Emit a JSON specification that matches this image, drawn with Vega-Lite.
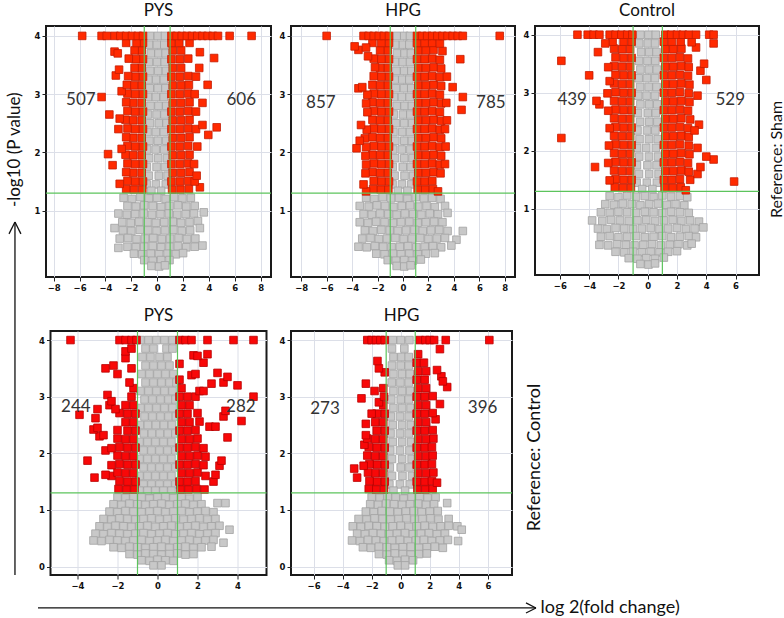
{
"$schema": "https://vega.github.io/schema/vega-lite/v6.json",
"background": "white",
"padding": {"left": 4, "top": 1, "right": 2, "bottom": 0},
"datasets": {
"p1": [
{"x":-0.55,"y":4.0},{"x":0.05,"y":4.0},{"x":0.6,"y":4.0},{"x":-0.62,"y":3.85},{"x":-0.02,"y":3.85},{"x":0.55,"y":3.85},{"x":-0.5,"y":3.7},{"x":0.1,"y":3.7},{"x":0.65,"y":3.7},{"x":-0.65,"y":3.55},{"x":0,"y":3.55},{"x":0.58,"y":3.55},{"x":-0.55,"y":3.4},{"x":0.08,"y":3.4},{"x":0.68,"y":3.4},{"x":-0.68,"y":3.25},{"x":-0.08,"y":3.25},{"x":0.52,"y":3.25},{"x":-0.58,"y":3.1},{"x":0.05,"y":3.1},{"x":0.64,"y":3.1},{"x":-0.7,"y":2.95},{"x":-0.1,"y":2.95},{"x":0.5,"y":2.95},{"x":-0.52,"y":2.8},{"x":0.1,"y":2.8},{"x":0.7,"y":2.8},{"x":-0.72,"y":2.65},{"x":-0.05,"y":2.65},{"x":0.56,"y":2.65},{"x":-0.56,"y":2.5},{"x":0.12,"y":2.5},{"x":0.72,"y":2.5},{"x":-0.75,"y":2.35},{"x":-0.1,"y":2.35},{"x":0.52,"y":2.35},{"x":-0.6,"y":2.2},{"x":0.05,"y":2.2},{"x":0.7,"y":2.2},{"x":-0.78,"y":2.05},{"x":-0.12,"y":2.05},{"x":0.55,"y":2.05},{"x":-0.62,"y":1.9},{"x":0.08,"y":1.9},{"x":0.76,"y":1.9},{"x":-0.8,"y":1.75},{"x":-0.05,"y":1.75},{"x":0.6,"y":1.75},{"x":-0.65,"y":1.6},{"x":0.12,"y":1.6},{"x":0.8,"y":1.6},{"x":-0.82,"y":1.45},{"x":-0.1,"y":1.45},{"x":0.66,"y":1.45},{"x":-0.45,"y":1.34},{"x":0.3,"y":1.34},
{"x":-2.6,"y":1.22},{"x":-1.95,"y":1.2},{"x":-1.3,"y":1.23},{"x":-0.65,"y":1.21},{"x":0,"y":1.22},{"x":0.65,"y":1.2},{"x":1.3,"y":1.23},{"x":1.95,"y":1.21},{"x":2.6,"y":1.22},
{"x":-2.3,"y":1.08},{"x":-1.65,"y":1.07},{"x":-1,"y":1.09},{"x":-0.35,"y":1.08},{"x":0.3,"y":1.06},{"x":0.95,"y":1.08},{"x":1.6,"y":1.09},{"x":2.25,"y":1.07},{"x":2.9,"y":1.08},
{"x":-3,"y":0.95},{"x":-2.35,"y":0.93},{"x":-1.7,"y":0.94},{"x":-1.05,"y":0.95},{"x":-0.4,"y":0.93},{"x":0.25,"y":0.94},{"x":0.9,"y":0.95},{"x":1.55,"y":0.93},{"x":2.2,"y":0.94},{"x":2.85,"y":0.95},{"x":3.6,"y":0.97},
{"x":-2.7,"y":0.8},{"x":-2.05,"y":0.79},{"x":-1.4,"y":0.81},{"x":-0.75,"y":0.8},{"x":-0.1,"y":0.79},{"x":0.55,"y":0.8},{"x":1.2,"y":0.81},{"x":1.85,"y":0.79},{"x":2.5,"y":0.8},{"x":3.15,"y":0.82},
{"x":-3.3,"y":0.7},{"x":-2.65,"y":0.66},{"x":-2,"y":0.65},{"x":-1.35,"y":0.67},{"x":-0.7,"y":0.66},{"x":-0.05,"y":0.65},{"x":0.6,"y":0.66},{"x":1.25,"y":0.67},{"x":1.9,"y":0.65},{"x":2.55,"y":0.66},{"x":3.3,"y":0.7},
{"x":-2.9,"y":0.52},{"x":-2.25,"y":0.53},{"x":-1.6,"y":0.51},{"x":-0.95,"y":0.52},{"x":-0.3,"y":0.53},{"x":0.35,"y":0.51},{"x":1,"y":0.52},{"x":1.65,"y":0.53},{"x":2.3,"y":0.51},{"x":2.95,"y":0.52},
{"x":-3,"y":0.36},{"x":-2.3,"y":0.38},{"x":-1.65,"y":0.37},{"x":-1,"y":0.38},{"x":-0.35,"y":0.39},{"x":0.3,"y":0.37},{"x":0.95,"y":0.38},{"x":1.6,"y":0.39},{"x":2.25,"y":0.37},{"x":2.9,"y":0.38},{"x":3.5,"y":0.4},
{"x":-1.8,"y":0.26},{"x":-1.15,"y":0.25},{"x":-0.5,"y":0.26},{"x":0.15,"y":0.25},{"x":0.8,"y":0.26},{"x":1.45,"y":0.25},{"x":2,"y":0.27},
{"x":-1,"y":0.15},{"x":-0.35,"y":0.14},{"x":0.3,"y":0.15},{"x":0.95,"y":0.15},{"x":-0.45,"y":0.05},{"x":0.15,"y":0.04},{"x":0.6,"y":0.06},
{"x":-1.15,"y":1.36},{"x":-1.8,"y":1.36},{"x":-2.4,"y":1.37},{"x":-1.1,"y":1.5},{"x":-1.7,"y":1.5},{"x":-2.3,"y":1.51},{"x":-2.9,"y":1.46},{"x":-1.2,"y":1.65},{"x":-1.85,"y":1.65},{"x":-2.4,"y":1.66},{"x":-1.1,"y":1.8},{"x":-1.7,"y":1.8},{"x":-2.3,"y":1.81},{"x":-3.45,"y":1.78},{"x":-1.2,"y":1.95},{"x":-1.85,"y":1.95},{"x":-2.45,"y":1.96},{"x":-3.8,"y":1.97},{"x":-1.1,"y":2.1},{"x":-1.7,"y":2.1},{"x":-2.3,"y":2.11},{"x":-2.75,"y":2.06},{"x":-1.2,"y":2.25},{"x":-1.85,"y":2.25},{"x":-2.4,"y":2.26},{"x":-1.1,"y":2.4},{"x":-1.7,"y":2.4},{"x":-2.3,"y":2.41},{"x":-3,"y":2.4},{"x":-1.2,"y":2.55},{"x":-1.85,"y":2.55},{"x":-2.45,"y":2.56},{"x":-2.9,"y":2.58},{"x":-1.1,"y":2.7},{"x":-1.7,"y":2.7},{"x":-2.3,"y":2.71},{"x":-3.7,"y":2.65},{"x":-1.2,"y":2.85},{"x":-1.85,"y":2.85},{"x":-2.4,"y":2.86},{"x":-1.1,"y":3.0},{"x":-1.7,"y":3.0},{"x":-2.3,"y":3.01},{"x":-2.75,"y":3.05},{"x":-4.3,"y":2.95},{"x":-1.2,"y":3.15},{"x":-1.8,"y":3.15},{"x":-2.35,"y":3.16},{"x":-1.1,"y":3.3},{"x":-1.7,"y":3.3},{"x":-2.25,"y":3.31},{"x":-3.2,"y":3.32},{"x":-1.2,"y":3.45},{"x":-1.75,"y":3.45},{"x":-2.95,"y":3.42},{"x":-1.1,"y":3.6},{"x":-1.65,"y":3.6},{"x":-2.2,"y":3.61},{"x":-1.2,"y":3.75},{"x":-1.75,"y":3.75},{"x":-3.3,"y":3.73},{"x":-3.05,"y":3.7},{"x":-1.1,"y":3.88},{"x":-1.6,"y":3.88},{"x":-2.4,"y":3.88},
{"x":-5.8,"y":4.0},{"x":-4.3,"y":4.0},{"x":-3.9,"y":4.0},{"x":-3.3,"y":4.0},{"x":-2.85,"y":4.0},{"x":-2.4,"y":4.0},{"x":-1.95,"y":4.0},{"x":-1.5,"y":4.0},{"x":-1.1,"y":4.0},
{"x":1.15,"y":1.36},{"x":1.8,"y":1.36},{"x":2.45,"y":1.37},{"x":3.3,"y":1.4},{"x":1.1,"y":1.5},{"x":1.75,"y":1.5},{"x":2.4,"y":1.51},{"x":2.9,"y":1.5},{"x":1.2,"y":1.65},{"x":1.85,"y":1.65},{"x":2.5,"y":1.66},{"x":3.05,"y":1.6},{"x":1.1,"y":1.8},{"x":1.75,"y":1.8},{"x":2.4,"y":1.81},{"x":2.85,"y":1.8},{"x":1.2,"y":1.95},{"x":1.85,"y":1.95},{"x":2.5,"y":1.96},{"x":1.1,"y":2.1},{"x":1.75,"y":2.1},{"x":2.4,"y":2.11},{"x":3.1,"y":2.1},{"x":1.2,"y":2.25},{"x":1.85,"y":2.25},{"x":2.5,"y":2.26},{"x":3.95,"y":2.3},{"x":1.1,"y":2.4},{"x":1.75,"y":2.4},{"x":2.4,"y":2.41},{"x":3,"y":2.4},{"x":4.6,"y":2.43},{"x":3.5,"y":2.47},{"x":1.2,"y":2.55},{"x":1.85,"y":2.55},{"x":2.5,"y":2.56},{"x":1.1,"y":2.7},{"x":1.75,"y":2.7},{"x":2.4,"y":2.71},{"x":3,"y":2.7},{"x":1.2,"y":2.85},{"x":1.85,"y":2.85},{"x":2.5,"y":2.86},{"x":3.5,"y":2.85},{"x":1.1,"y":3.0},{"x":1.75,"y":3.0},{"x":2.4,"y":3.01},{"x":2.9,"y":3.0},{"x":1.2,"y":3.15},{"x":1.85,"y":3.15},{"x":2.45,"y":3.16},{"x":3.9,"y":3.16},{"x":1.1,"y":3.3},{"x":1.75,"y":3.3},{"x":2.4,"y":3.31},{"x":3,"y":3.3},{"x":1.2,"y":3.45},{"x":1.85,"y":3.45},{"x":3.25,"y":3.45},{"x":1.1,"y":3.6},{"x":1.75,"y":3.6},{"x":2.4,"y":3.61},{"x":4.4,"y":3.62},{"x":1.2,"y":3.75},{"x":1.85,"y":3.75},{"x":3.3,"y":3.72},{"x":1.1,"y":3.88},{"x":1.7,"y":3.88},{"x":2.5,"y":3.88},
{"x":1.1,"y":4.0},{"x":1.5,"y":4.0},{"x":1.9,"y":4.0},{"x":2.3,"y":4.0},{"x":2.7,"y":4.0},{"x":3.1,"y":4.0},{"x":3.5,"y":4.0},{"x":3.9,"y":4.0},{"x":4.3,"y":4.0},{"x":4.7,"y":4.0},{"x":5.6,"y":4.0},{"x":7.3,"y":4.0}
],
"p2": [
{"x":-0.5,"y":4.0},{"x":0.1,"y":4.0},{"x":0.55,"y":4.0},{"x":-0.6,"y":3.85},{"x":0,"y":3.85},{"x":0.5,"y":3.85},{"x":-0.48,"y":3.7},{"x":0.12,"y":3.7},{"x":0.62,"y":3.7},{"x":-0.62,"y":3.55},{"x":-0.02,"y":3.55},{"x":0.55,"y":3.55},{"x":-0.52,"y":3.4},{"x":0.1,"y":3.4},{"x":0.66,"y":3.4},{"x":-0.66,"y":3.25},{"x":-0.05,"y":3.25},{"x":0.5,"y":3.25},{"x":-0.55,"y":3.1},{"x":0.08,"y":3.1},{"x":0.65,"y":3.1},{"x":-0.7,"y":2.95},{"x":-0.08,"y":2.95},{"x":0.52,"y":2.95},{"x":-0.5,"y":2.8},{"x":0.12,"y":2.8},{"x":0.7,"y":2.8},{"x":-0.72,"y":2.65},{"x":0,"y":2.65},{"x":0.58,"y":2.65},{"x":-0.56,"y":2.5},{"x":0.1,"y":2.5},{"x":0.72,"y":2.5},{"x":-0.75,"y":2.35},{"x":-0.05,"y":2.35},{"x":0.55,"y":2.35},{"x":-0.6,"y":2.2},{"x":0.1,"y":2.2},{"x":0.7,"y":2.2},{"x":-0.78,"y":2.05},{"x":-0.1,"y":2.05},{"x":0.58,"y":2.05},{"x":-0.62,"y":1.9},{"x":0.1,"y":1.9},{"x":0.75,"y":1.9},{"x":-0.8,"y":1.75},{"x":-0.02,"y":1.75},{"x":0.62,"y":1.75},{"x":-0.66,"y":1.6},{"x":0.12,"y":1.6},{"x":0.8,"y":1.6},{"x":-0.82,"y":1.45},{"x":-0.08,"y":1.45},{"x":0.66,"y":1.45},{"x":-0.4,"y":1.34},{"x":0.35,"y":1.34},
{"x":-2.9,"y":1.22},{"x":-2.25,"y":1.2},{"x":-1.6,"y":1.23},{"x":-0.95,"y":1.21},{"x":-0.3,"y":1.22},{"x":0.35,"y":1.2},{"x":1,"y":1.23},{"x":1.65,"y":1.21},{"x":2.3,"y":1.22},{"x":2.95,"y":1.2},
{"x":-3.4,"y":1.08},{"x":-2.7,"y":1.07},{"x":-2.05,"y":1.09},{"x":-1.4,"y":1.08},{"x":-0.75,"y":1.06},{"x":-0.1,"y":1.08},{"x":0.55,"y":1.09},{"x":1.2,"y":1.07},{"x":1.85,"y":1.08},{"x":2.5,"y":1.06},{"x":3.3,"y":1.08},
{"x":-3.1,"y":0.94},{"x":-2.45,"y":0.93},{"x":-1.8,"y":0.95},{"x":-1.15,"y":0.94},{"x":-0.5,"y":0.93},{"x":0.15,"y":0.95},{"x":0.8,"y":0.94},{"x":1.45,"y":0.93},{"x":2.1,"y":0.95},{"x":2.75,"y":0.94},{"x":3.5,"y":0.96},
{"x":-3.4,"y":0.8},{"x":-2.75,"y":0.79},{"x":-2.1,"y":0.81},{"x":-1.45,"y":0.8},{"x":-0.8,"y":0.79},{"x":-0.15,"y":0.8},{"x":0.5,"y":0.81},{"x":1.15,"y":0.79},{"x":1.8,"y":0.8},{"x":2.45,"y":0.81},{"x":3.1,"y":0.8},
{"x":-3,"y":0.66},{"x":-2.35,"y":0.65},{"x":-1.7,"y":0.67},{"x":-1.05,"y":0.66},{"x":-0.4,"y":0.65},{"x":0.25,"y":0.66},{"x":0.9,"y":0.67},{"x":1.55,"y":0.65},{"x":2.2,"y":0.66},{"x":2.85,"y":0.67},{"x":3.5,"y":0.65},{"x":4.7,"y":0.65},
{"x":-3.2,"y":0.52},{"x":-2.55,"y":0.53},{"x":-1.9,"y":0.51},{"x":-1.25,"y":0.52},{"x":-0.6,"y":0.53},{"x":0.05,"y":0.51},{"x":0.7,"y":0.52},{"x":1.35,"y":0.53},{"x":2,"y":0.51},{"x":2.65,"y":0.52},{"x":3.3,"y":0.53},{"x":4.2,"y":0.5},
{"x":-3.5,"y":0.38},{"x":-2.85,"y":0.37},{"x":-2.2,"y":0.39},{"x":-1.55,"y":0.38},{"x":-0.9,"y":0.37},{"x":-0.25,"y":0.38},{"x":0.4,"y":0.39},{"x":1.05,"y":0.37},{"x":1.7,"y":0.38},{"x":2.35,"y":0.39},{"x":3,"y":0.37},{"x":3.8,"y":0.4},
{"x":-2.1,"y":0.26},{"x":-1.45,"y":0.25},{"x":-0.8,"y":0.26},{"x":-0.15,"y":0.25},{"x":0.5,"y":0.26},{"x":1.15,"y":0.25},{"x":1.8,"y":0.26},{"x":2.5,"y":0.27},
{"x":-1.2,"y":0.15},{"x":-0.55,"y":0.14},{"x":0.1,"y":0.15},{"x":0.75,"y":0.14},{"x":1.4,"y":0.16},{"x":-0.5,"y":0.05},{"x":0.1,"y":0.04},{"x":0.6,"y":0.06},
{"x":-1.15,"y":1.36},{"x":-1.75,"y":1.36},{"x":-2.35,"y":1.37},{"x":-2.9,"y":1.33},{"x":-1.1,"y":1.5},{"x":-1.7,"y":1.5},{"x":-2.3,"y":1.51},{"x":-3.1,"y":1.45},{"x":-1.2,"y":1.65},{"x":-1.8,"y":1.65},{"x":-2.4,"y":1.66},{"x":-2.95,"y":1.64},{"x":-1.1,"y":1.8},{"x":-1.7,"y":1.8},{"x":-2.3,"y":1.81},{"x":-2.9,"y":1.79},{"x":-1.2,"y":1.95},{"x":-1.8,"y":1.95},{"x":-2.4,"y":1.96},{"x":-2.95,"y":1.94},{"x":-1.1,"y":2.1},{"x":-1.7,"y":2.1},{"x":-2.3,"y":2.11},{"x":-2.9,"y":2.09},{"x":-3.65,"y":2.07},{"x":-1.2,"y":2.25},{"x":-1.8,"y":2.25},{"x":-2.4,"y":2.26},{"x":-3,"y":2.24},{"x":-3.4,"y":2.2},{"x":-1.1,"y":2.4},{"x":-1.7,"y":2.4},{"x":-2.3,"y":2.41},{"x":-2.85,"y":2.39},{"x":-1.2,"y":2.55},{"x":-1.8,"y":2.55},{"x":-2.4,"y":2.56},{"x":-3.3,"y":2.47},{"x":-1.1,"y":2.7},{"x":-1.7,"y":2.7},{"x":-2.3,"y":2.71},{"x":-2.8,"y":2.69},{"x":-1.2,"y":2.85},{"x":-1.8,"y":2.85},{"x":-2.4,"y":2.86},{"x":-2.9,"y":2.84},{"x":-1.1,"y":3.0},{"x":-1.7,"y":3.0},{"x":-2.3,"y":3.01},{"x":-2.8,"y":2.99},{"x":-3.5,"y":3.1},{"x":-1.2,"y":3.15},{"x":-1.8,"y":3.15},{"x":-2.4,"y":3.16},{"x":-3.2,"y":3.12},{"x":-1.1,"y":3.3},{"x":-1.7,"y":3.3},{"x":-2.3,"y":3.31},{"x":-1.2,"y":3.45},{"x":-1.8,"y":3.45},{"x":-2.2,"y":3.46},{"x":-1.1,"y":3.6},{"x":-1.7,"y":3.6},{"x":-2.3,"y":3.61},{"x":-2.75,"y":3.65},{"x":-1.2,"y":3.75},{"x":-1.8,"y":3.75},{"x":-3.5,"y":3.76},{"x":-1.1,"y":3.88},{"x":-1.7,"y":3.88},{"x":-2.4,"y":3.88},{"x":-3.8,"y":3.82},{"x":-2.9,"y":3.8},
{"x":-6,"y":4.0},{"x":-3.1,"y":4.0},{"x":-2.7,"y":4.0},{"x":-2.3,"y":4.0},{"x":-1.9,"y":4.0},{"x":-1.5,"y":4.0},{"x":-1.1,"y":4.0},
{"x":1.15,"y":1.36},{"x":1.75,"y":1.36},{"x":2.35,"y":1.37},{"x":2.75,"y":1.33},{"x":1.1,"y":1.5},{"x":1.7,"y":1.5},{"x":2.3,"y":1.51},{"x":1.2,"y":1.65},{"x":1.8,"y":1.65},{"x":2.4,"y":1.66},{"x":2.95,"y":1.64},{"x":1.1,"y":1.8},{"x":1.7,"y":1.8},{"x":2.3,"y":1.81},{"x":2.9,"y":1.79},{"x":3.3,"y":1.8},{"x":1.2,"y":1.95},{"x":1.8,"y":1.95},{"x":2.4,"y":1.96},{"x":3,"y":1.94},{"x":1.1,"y":2.1},{"x":1.7,"y":2.1},{"x":2.3,"y":2.11},{"x":2.9,"y":2.09},{"x":3.35,"y":2.1},{"x":1.2,"y":2.25},{"x":1.8,"y":2.25},{"x":2.4,"y":2.26},{"x":3,"y":2.24},{"x":1.1,"y":2.4},{"x":1.7,"y":2.4},{"x":2.3,"y":2.41},{"x":2.9,"y":2.39},{"x":3.3,"y":2.4},{"x":1.2,"y":2.55},{"x":1.8,"y":2.55},{"x":2.4,"y":2.56},{"x":3,"y":2.54},{"x":3.45,"y":2.55},{"x":1.1,"y":2.7},{"x":1.7,"y":2.7},{"x":2.3,"y":2.71},{"x":2.9,"y":2.69},{"x":4.6,"y":2.73},{"x":1.2,"y":2.85},{"x":1.8,"y":2.85},{"x":2.4,"y":2.86},{"x":3,"y":2.84},{"x":3.4,"y":2.85},{"x":1.1,"y":3.0},{"x":1.7,"y":3.0},{"x":2.3,"y":3.01},{"x":2.9,"y":2.99},{"x":4.7,"y":2.95},{"x":1.2,"y":3.15},{"x":1.8,"y":3.15},{"x":2.4,"y":3.16},{"x":3,"y":3.14},{"x":3.9,"y":3.12},{"x":1.1,"y":3.3},{"x":1.7,"y":3.3},{"x":2.3,"y":3.31},{"x":2.9,"y":3.29},{"x":3.45,"y":3.3},{"x":1.2,"y":3.45},{"x":1.8,"y":3.45},{"x":2.4,"y":3.46},{"x":3,"y":3.44},{"x":1.1,"y":3.6},{"x":1.7,"y":3.6},{"x":2.3,"y":3.61},{"x":2.9,"y":3.59},{"x":4.5,"y":3.6},{"x":1.2,"y":3.75},{"x":1.8,"y":3.75},{"x":2.4,"y":3.76},{"x":3.1,"y":3.74},{"x":1.1,"y":3.88},{"x":1.7,"y":3.88},{"x":2.3,"y":3.88},{"x":2.9,"y":3.87},
{"x":1.1,"y":4.0},{"x":1.5,"y":4.0},{"x":1.9,"y":4.0},{"x":2.3,"y":4.0},{"x":2.7,"y":4.0},{"x":3.1,"y":4.0},{"x":3.5,"y":4.0},{"x":3.9,"y":4.0},{"x":4.3,"y":4.0},{"x":4.7,"y":4.0},{"x":7.6,"y":4.0}
],
"p3": [
{"x":-0.5,"y":4.0},{"x":0.05,"y":4.0},{"x":0.55,"y":4.0},{"x":-0.58,"y":3.85},{"x":0,"y":3.85},{"x":0.5,"y":3.85},{"x":-0.45,"y":3.7},{"x":0.1,"y":3.7},{"x":0.6,"y":3.7},{"x":-0.6,"y":3.55},{"x":-0.02,"y":3.55},{"x":0.52,"y":3.55},{"x":-0.5,"y":3.4},{"x":0.08,"y":3.4},{"x":0.62,"y":3.4},{"x":-0.62,"y":3.25},{"x":-0.05,"y":3.25},{"x":0.5,"y":3.25},{"x":-0.52,"y":3.1},{"x":0.06,"y":3.1},{"x":0.6,"y":3.1},{"x":-0.65,"y":2.95},{"x":-0.08,"y":2.95},{"x":0.5,"y":2.95},{"x":-0.5,"y":2.8},{"x":0.1,"y":2.8},{"x":0.65,"y":2.8},{"x":-0.66,"y":2.65},{"x":0,"y":2.65},{"x":0.55,"y":2.65},{"x":-0.52,"y":2.5},{"x":0.1,"y":2.5},{"x":0.66,"y":2.5},{"x":-0.7,"y":2.35},{"x":-0.05,"y":2.35},{"x":0.52,"y":2.35},{"x":-0.56,"y":2.2},{"x":0.08,"y":2.2},{"x":0.68,"y":2.2},{"x":-0.72,"y":2.05},{"x":-0.1,"y":2.05},{"x":0.55,"y":2.05},{"x":-0.58,"y":1.9},{"x":0.08,"y":1.9},{"x":0.7,"y":1.9},{"x":-0.74,"y":1.75},{"x":-0.02,"y":1.75},{"x":0.6,"y":1.75},{"x":-0.6,"y":1.6},{"x":0.1,"y":1.6},{"x":0.74,"y":1.6},{"x":-0.76,"y":1.45},{"x":-0.06,"y":1.45},{"x":0.62,"y":1.45},{"x":-0.38,"y":1.34},{"x":0.32,"y":1.34},
{"x":-2.6,"y":1.22},{"x":-2,"y":1.2},{"x":-1.4,"y":1.23},{"x":-0.8,"y":1.21},{"x":-0.2,"y":1.22},{"x":0.4,"y":1.2},{"x":1,"y":1.23},{"x":1.6,"y":1.21},{"x":2.2,"y":1.22},{"x":2.7,"y":1.2},
{"x":-2.9,"y":1.08},{"x":-2.3,"y":1.07},{"x":-1.7,"y":1.09},{"x":-1.1,"y":1.08},{"x":-0.5,"y":1.06},{"x":0.1,"y":1.08},{"x":0.7,"y":1.09},{"x":1.3,"y":1.07},{"x":1.9,"y":1.08},{"x":2.5,"y":1.06},
{"x":-3.2,"y":0.94},{"x":-2.6,"y":0.93},{"x":-2,"y":0.95},{"x":-1.4,"y":0.94},{"x":-0.8,"y":0.93},{"x":-0.2,"y":0.95},{"x":0.4,"y":0.94},{"x":1,"y":0.93},{"x":1.6,"y":0.95},{"x":2.2,"y":0.94},{"x":2.8,"y":0.93},
{"x":-3.8,"y":0.8},{"x":-3.1,"y":0.79},{"x":-2.5,"y":0.81},{"x":-1.9,"y":0.8},{"x":-1.3,"y":0.79},{"x":-0.7,"y":0.8},{"x":-0.1,"y":0.81},{"x":0.5,"y":0.79},{"x":1.1,"y":0.8},{"x":1.7,"y":0.81},{"x":2.3,"y":0.79},{"x":2.9,"y":0.8},{"x":3.5,"y":0.78},
{"x":-3.4,"y":0.66},{"x":-2.8,"y":0.65},{"x":-2.2,"y":0.67},{"x":-1.6,"y":0.66},{"x":-1,"y":0.65},{"x":-0.4,"y":0.66},{"x":0.2,"y":0.67},{"x":0.8,"y":0.65},{"x":1.4,"y":0.66},{"x":2,"y":0.67},{"x":2.6,"y":0.65},{"x":3.2,"y":0.66},{"x":3.8,"y":0.68},
{"x":-3.2,"y":0.52},{"x":-2.6,"y":0.53},{"x":-2,"y":0.51},{"x":-1.4,"y":0.52},{"x":-0.8,"y":0.53},{"x":-0.2,"y":0.51},{"x":0.4,"y":0.52},{"x":1,"y":0.53},{"x":1.6,"y":0.51},{"x":2.2,"y":0.52},{"x":2.8,"y":0.53},{"x":3.3,"y":0.51},
{"x":-3.3,"y":0.38},{"x":-2.7,"y":0.37},{"x":-2.1,"y":0.39},{"x":-1.5,"y":0.38},{"x":-0.9,"y":0.37},{"x":-0.3,"y":0.38},{"x":0.3,"y":0.39},{"x":0.9,"y":0.37},{"x":1.5,"y":0.38},{"x":2.1,"y":0.39},{"x":2.7,"y":0.37},{"x":3,"y":0.4},
{"x":-2.2,"y":0.26},{"x":-1.6,"y":0.25},{"x":-1,"y":0.26},{"x":-0.4,"y":0.25},{"x":0.2,"y":0.26},{"x":0.8,"y":0.25},{"x":1.4,"y":0.26},{"x":2,"y":0.27},
{"x":-1.3,"y":0.15},{"x":-0.7,"y":0.14},{"x":-0.1,"y":0.15},{"x":0.5,"y":0.14},{"x":1.1,"y":0.16},{"x":-0.5,"y":0.05},{"x":0.05,"y":0.04},{"x":0.5,"y":0.06},
{"x":-1.15,"y":1.36},{"x":-1.7,"y":1.36},{"x":-2.25,"y":1.37},{"x":-1.1,"y":1.5},{"x":-1.65,"y":1.5},{"x":-2.2,"y":1.51},{"x":-2.6,"y":1.49},{"x":-1.2,"y":1.65},{"x":-1.75,"y":1.65},{"x":-2.3,"y":1.66},{"x":-3.6,"y":1.72},{"x":-1.1,"y":1.8},{"x":-1.65,"y":1.8},{"x":-2.2,"y":1.81},{"x":-2.7,"y":1.79},{"x":-1.2,"y":1.95},{"x":-1.75,"y":1.95},{"x":-2.3,"y":1.96},{"x":-1.1,"y":2.1},{"x":-1.65,"y":2.1},{"x":-2.2,"y":2.11},{"x":-2.65,"y":2.09},{"x":-1.2,"y":2.25},{"x":-1.75,"y":2.25},{"x":-2.3,"y":2.26},{"x":-5.9,"y":2.22},{"x":-1.1,"y":2.4},{"x":-1.65,"y":2.4},{"x":-2.2,"y":2.41},{"x":-2.6,"y":2.39},{"x":-1.2,"y":2.55},{"x":-1.75,"y":2.55},{"x":-2.3,"y":2.56},{"x":-1.1,"y":2.7},{"x":-1.65,"y":2.7},{"x":-2.2,"y":2.71},{"x":-2.7,"y":2.69},{"x":-1.2,"y":2.85},{"x":-1.75,"y":2.85},{"x":-2.3,"y":2.86},{"x":-3.3,"y":2.8},{"x":-3.5,"y":2.86},{"x":-1.1,"y":3.0},{"x":-1.65,"y":3.0},{"x":-2.2,"y":3.01},{"x":-2.75,"y":2.99},{"x":-1.2,"y":3.15},{"x":-1.75,"y":3.15},{"x":-2.3,"y":3.16},{"x":-2.6,"y":3.2},{"x":-1.1,"y":3.3},{"x":-1.65,"y":3.3},{"x":-2.2,"y":3.31},{"x":-4,"y":3.3},{"x":-1.2,"y":3.45},{"x":-1.75,"y":3.45},{"x":-2.3,"y":3.46},{"x":-2.7,"y":3.44},{"x":-1.1,"y":3.6},{"x":-1.65,"y":3.6},{"x":-2.2,"y":3.61},{"x":-5.9,"y":3.55},{"x":-1.2,"y":3.75},{"x":-1.75,"y":3.75},{"x":-2.3,"y":3.76},{"x":-3.4,"y":3.7},{"x":-1.1,"y":3.88},{"x":-1.65,"y":3.88},{"x":-2.4,"y":3.88},{"x":-2.9,"y":3.85},
{"x":-4.8,"y":4.0},{"x":-4.1,"y":4.0},{"x":-3.7,"y":4.0},{"x":-3.3,"y":4.0},{"x":-2.6,"y":4.0},{"x":-2.2,"y":4.0},{"x":-1.8,"y":4.0},{"x":-1.4,"y":4.0},{"x":-1.05,"y":4.0},
{"x":1.15,"y":1.36},{"x":1.7,"y":1.36},{"x":2.25,"y":1.37},{"x":2.6,"y":1.32},{"x":1.1,"y":1.5},{"x":1.65,"y":1.5},{"x":2.2,"y":1.51},{"x":2.9,"y":1.5},{"x":5.9,"y":1.47},{"x":1.2,"y":1.65},{"x":1.75,"y":1.65},{"x":2.3,"y":1.66},{"x":2.8,"y":1.64},{"x":3.4,"y":1.6},{"x":1.1,"y":1.8},{"x":1.65,"y":1.8},{"x":2.2,"y":1.81},{"x":2.75,"y":1.79},{"x":3.6,"y":1.72},{"x":4.5,"y":1.85},{"x":4,"y":1.9},{"x":1.2,"y":1.95},{"x":1.75,"y":1.95},{"x":2.3,"y":1.96},{"x":2.85,"y":1.94},{"x":1.1,"y":2.1},{"x":1.65,"y":2.1},{"x":2.2,"y":2.11},{"x":2.8,"y":2.09},{"x":3.4,"y":2.05},{"x":1.2,"y":2.25},{"x":1.75,"y":2.25},{"x":2.3,"y":2.26},{"x":2.8,"y":2.24},{"x":1.1,"y":2.4},{"x":1.65,"y":2.4},{"x":2.2,"y":2.41},{"x":2.75,"y":2.39},{"x":3.5,"y":2.45},{"x":3.2,"y":2.35},{"x":1.2,"y":2.55},{"x":1.75,"y":2.55},{"x":2.3,"y":2.56},{"x":2.9,"y":2.54},{"x":1.1,"y":2.7},{"x":1.65,"y":2.7},{"x":2.2,"y":2.71},{"x":2.75,"y":2.69},{"x":1.2,"y":2.85},{"x":1.75,"y":2.85},{"x":2.3,"y":2.86},{"x":2.85,"y":2.84},{"x":3.4,"y":2.95},{"x":1.1,"y":3.0},{"x":1.65,"y":3.0},{"x":2.2,"y":3.01},{"x":2.8,"y":2.99},{"x":1.2,"y":3.15},{"x":1.75,"y":3.15},{"x":2.3,"y":3.16},{"x":2.85,"y":3.14},{"x":4,"y":3.22},{"x":1.1,"y":3.3},{"x":1.65,"y":3.3},{"x":2.2,"y":3.31},{"x":2.75,"y":3.29},{"x":3.6,"y":3.38},{"x":1.2,"y":3.45},{"x":1.75,"y":3.45},{"x":2.3,"y":3.46},{"x":2.8,"y":3.44},{"x":3.85,"y":3.5},{"x":1.1,"y":3.6},{"x":1.65,"y":3.6},{"x":2.2,"y":3.61},{"x":2.75,"y":3.59},{"x":1.2,"y":3.75},{"x":1.75,"y":3.75},{"x":2.3,"y":3.76},{"x":3.3,"y":3.78},{"x":1.1,"y":3.88},{"x":1.65,"y":3.88},{"x":2.25,"y":3.88},{"x":3,"y":3.87},{"x":4.5,"y":3.85},
{"x":1.2,"y":4.0},{"x":1.6,"y":4.0},{"x":2,"y":4.0},{"x":2.4,"y":4.0},{"x":2.8,"y":4.0},{"x":3.3,"y":4.0},{"x":4.2,"y":4.0},{"x":4.5,"y":4.0}
],
"p4": [
{"x":-0.85,"y":4.0},{"x":-0.45,"y":4.0},{"x":-0.05,"y":4.0},{"x":0.35,"y":4.0},{"x":0.75,"y":4.0},{"x":-0.6,"y":3.85},{"x":-0.2,"y":3.85},{"x":0.45,"y":3.85},{"x":0.75,"y":3.85},{"x":-0.75,"y":3.7},{"x":-0.35,"y":3.7},{"x":0.1,"y":3.7},{"x":0.5,"y":3.7},{"x":-0.6,"y":3.55},{"x":-0.2,"y":3.55},{"x":0.2,"y":3.55},{"x":0.6,"y":3.55},{"x":-0.8,"y":3.4},{"x":-0.4,"y":3.4},{"x":0,"y":3.4},{"x":0.4,"y":3.4},{"x":0.8,"y":3.4},{"x":-0.6,"y":3.25},{"x":-0.2,"y":3.25},{"x":0.2,"y":3.25},{"x":0.6,"y":3.25},{"x":0.95,"y":3.25},{"x":-0.85,"y":3.1},{"x":-0.45,"y":3.1},{"x":-0.05,"y":3.1},{"x":0.35,"y":3.1},{"x":0.75,"y":3.1},{"x":-0.65,"y":2.95},{"x":-0.25,"y":2.95},{"x":0.15,"y":2.95},{"x":0.55,"y":2.95},{"x":0.9,"y":2.95},{"x":-0.85,"y":2.8},{"x":-0.45,"y":2.8},{"x":-0.05,"y":2.8},{"x":0.35,"y":2.8},{"x":0.75,"y":2.8},{"x":-0.65,"y":2.65},{"x":-0.25,"y":2.65},{"x":0.15,"y":2.65},{"x":0.55,"y":2.65},{"x":0.92,"y":2.65},{"x":-0.88,"y":2.5},{"x":-0.48,"y":2.5},{"x":-0.08,"y":2.5},{"x":0.32,"y":2.5},{"x":0.72,"y":2.5},{"x":-0.68,"y":2.35},{"x":-0.28,"y":2.35},{"x":0.12,"y":2.35},{"x":0.52,"y":2.35},{"x":0.9,"y":2.35},{"x":-0.9,"y":2.2},{"x":-0.5,"y":2.2},{"x":-0.1,"y":2.2},{"x":0.3,"y":2.2},{"x":0.7,"y":2.2},{"x":-0.7,"y":2.05},{"x":-0.3,"y":2.05},{"x":0.1,"y":2.05},{"x":0.5,"y":2.05},{"x":0.9,"y":2.05},{"x":-0.9,"y":1.9},{"x":-0.5,"y":1.9},{"x":-0.1,"y":1.9},{"x":0.3,"y":1.9},{"x":0.7,"y":1.9},{"x":-0.7,"y":1.75},{"x":-0.3,"y":1.75},{"x":0.1,"y":1.75},{"x":0.5,"y":1.75},{"x":0.9,"y":1.75},{"x":-0.9,"y":1.6},{"x":-0.5,"y":1.6},{"x":-0.1,"y":1.6},{"x":0.3,"y":1.6},{"x":0.7,"y":1.6},{"x":-0.7,"y":1.45},{"x":-0.3,"y":1.45},{"x":0.1,"y":1.45},{"x":0.5,"y":1.45},{"x":0.9,"y":1.45},{"x":-0.9,"y":1.34},{"x":-0.5,"y":1.34},{"x":-0.1,"y":1.34},{"x":0.3,"y":1.34},{"x":0.7,"y":1.34},
{"x":-2,"y":1.22},{"x":-1.6,"y":1.21},{"x":-1.2,"y":1.23},{"x":-0.8,"y":1.22},{"x":-0.4,"y":1.2},{"x":0,"y":1.22},{"x":0.4,"y":1.23},{"x":0.8,"y":1.21},{"x":1.2,"y":1.22},{"x":1.6,"y":1.2},{"x":2,"y":1.22},
{"x":-2.2,"y":1.1},{"x":-1.8,"y":1.09},{"x":-1.4,"y":1.11},{"x":-1,"y":1.1},{"x":-0.6,"y":1.09},{"x":-0.2,"y":1.1},{"x":0.2,"y":1.11},{"x":0.6,"y":1.09},{"x":1,"y":1.1},{"x":1.4,"y":1.11},{"x":1.8,"y":1.09},{"x":2.2,"y":1.1},{"x":3,"y":1.12},{"x":3.4,"y":1.12},
{"x":-2.4,"y":0.97},{"x":-2,"y":0.96},{"x":-1.6,"y":0.98},{"x":-1.2,"y":0.97},{"x":-0.8,"y":0.96},{"x":-0.4,"y":0.97},{"x":0,"y":0.98},{"x":0.4,"y":0.96},{"x":0.8,"y":0.97},{"x":1.2,"y":0.98},{"x":1.6,"y":0.96},{"x":2,"y":0.97},{"x":2.4,"y":0.98},{"x":2.8,"y":0.96},
{"x":-2.7,"y":0.84},{"x":-2.3,"y":0.83},{"x":-1.9,"y":0.85},{"x":-1.5,"y":0.84},{"x":-1.1,"y":0.83},{"x":-0.7,"y":0.84},{"x":-0.3,"y":0.85},{"x":0.1,"y":0.83},{"x":0.5,"y":0.84},{"x":0.9,"y":0.85},{"x":1.3,"y":0.83},{"x":1.7,"y":0.84},{"x":2.1,"y":0.85},{"x":2.5,"y":0.83},{"x":2.9,"y":0.84},
{"x":-2.9,"y":0.71},{"x":-2.5,"y":0.7},{"x":-2.1,"y":0.72},{"x":-1.7,"y":0.71},{"x":-1.3,"y":0.7},{"x":-0.9,"y":0.71},{"x":-0.5,"y":0.72},{"x":-0.1,"y":0.7},{"x":0.3,"y":0.71},{"x":0.7,"y":0.72},{"x":1.1,"y":0.7},{"x":1.5,"y":0.71},{"x":1.9,"y":0.72},{"x":2.3,"y":0.7},{"x":2.7,"y":0.71},{"x":3.1,"y":0.72},
{"x":-3.1,"y":0.58},{"x":-2.7,"y":0.57},{"x":-2.3,"y":0.59},{"x":-1.9,"y":0.58},{"x":-1.5,"y":0.57},{"x":-1.1,"y":0.58},{"x":-0.7,"y":0.59},{"x":-0.3,"y":0.57},{"x":0.1,"y":0.58},{"x":0.5,"y":0.59},{"x":0.9,"y":0.57},{"x":1.3,"y":0.58},{"x":1.7,"y":0.59},{"x":2.1,"y":0.57},{"x":2.5,"y":0.58},{"x":2.9,"y":0.59},{"x":3.6,"y":0.65},
{"x":-3.2,"y":0.46},{"x":-2.8,"y":0.45},{"x":-2.4,"y":0.47},{"x":-2,"y":0.46},{"x":-1.6,"y":0.45},{"x":-1.2,"y":0.46},{"x":-0.8,"y":0.47},{"x":-0.4,"y":0.45},{"x":0,"y":0.46},{"x":0.4,"y":0.47},{"x":0.8,"y":0.45},{"x":1.2,"y":0.46},{"x":1.6,"y":0.47},{"x":2,"y":0.45},{"x":2.4,"y":0.46},{"x":2.8,"y":0.47},{"x":3.3,"y":0.42},
{"x":-2.2,"y":0.34},{"x":-1.8,"y":0.33},{"x":-1.4,"y":0.35},{"x":-1,"y":0.34},{"x":-0.6,"y":0.33},{"x":-0.2,"y":0.34},{"x":0.2,"y":0.35},{"x":0.6,"y":0.33},{"x":1,"y":0.34},{"x":1.4,"y":0.35},{"x":1.8,"y":0.33},{"x":2.2,"y":0.34},{"x":2.7,"y":0.35},
{"x":-1.4,"y":0.22},{"x":-1,"y":0.21},{"x":-0.6,"y":0.23},{"x":-0.2,"y":0.22},{"x":0.2,"y":0.21},{"x":0.6,"y":0.22},{"x":1,"y":0.23},{"x":1.4,"y":0.21},{"x":1.8,"y":0.22},
{"x":-0.8,"y":0.11},{"x":-0.4,"y":0.1},{"x":0,"y":0.12},{"x":0.4,"y":0.11},{"x":0.8,"y":0.1},{"x":-0.2,"y":0.02},{"x":0.2,"y":0.02},
{"x":-1.15,"y":1.36},{"x":-1.55,"y":1.36},{"x":-1.95,"y":1.37},{"x":-1.1,"y":1.5},{"x":-1.5,"y":1.5},{"x":-1.9,"y":1.51},{"x":-2.3,"y":1.6},{"x":-1.2,"y":1.65},{"x":-1.6,"y":1.65},{"x":-2,"y":1.66},{"x":-3.15,"y":1.57},{"x":-2.6,"y":1.62},{"x":-1.1,"y":1.8},{"x":-1.5,"y":1.8},{"x":-1.9,"y":1.81},{"x":-2.3,"y":1.79},{"x":-1.2,"y":1.95},{"x":-1.6,"y":1.95},{"x":-2,"y":1.96},{"x":-2.6,"y":2.05},{"x":-3.5,"y":1.87},{"x":-1.1,"y":2.1},{"x":-1.5,"y":2.1},{"x":-1.9,"y":2.11},{"x":-2.3,"y":2.09},{"x":-1.2,"y":2.25},{"x":-1.6,"y":2.25},{"x":-2,"y":2.26},{"x":-2.9,"y":2.3},{"x":-2.7,"y":2.32},{"x":-1.1,"y":2.4},{"x":-1.5,"y":2.4},{"x":-2,"y":2.41},{"x":-3.2,"y":2.42},{"x":-3,"y":2.45},{"x":-1.2,"y":2.55},{"x":-1.6,"y":2.55},{"x":-3.1,"y":2.62},{"x":-1.1,"y":2.7},{"x":-1.5,"y":2.7},{"x":-1.9,"y":2.71},{"x":-3,"y":2.78},{"x":-3.9,"y":2.68},{"x":-1.2,"y":2.85},{"x":-1.6,"y":2.85},{"x":-2.4,"y":2.85},{"x":-2.1,"y":2.78},{"x":-1.3,"y":3.0},{"x":-2.5,"y":3.03},{"x":-2.3,"y":2.92},{"x":-1.2,"y":3.15},{"x":-1.4,"y":3.25},{"x":-2,"y":3.4},{"x":-1.3,"y":3.5},{"x":-2.6,"y":3.5},{"x":-2.2,"y":3.55},{"x":-1.6,"y":3.68},{"x":-1.6,"y":3.8},{"x":-1.3,"y":3.85},
{"x":-4.35,"y":4.0},{"x":-1.9,"y":4.0},{"x":-1.6,"y":4.0},{"x":-1.3,"y":4.0},{"x":-1.05,"y":4.0},
{"x":1.15,"y":1.36},{"x":1.55,"y":1.36},{"x":1.95,"y":1.37},{"x":2.35,"y":1.36},{"x":1.1,"y":1.5},{"x":1.5,"y":1.5},{"x":1.9,"y":1.51},{"x":2.8,"y":1.5},{"x":1.2,"y":1.65},{"x":1.6,"y":1.65},{"x":2,"y":1.66},{"x":2.9,"y":1.62},{"x":2.4,"y":1.6},{"x":1.1,"y":1.8},{"x":1.5,"y":1.8},{"x":1.9,"y":1.81},{"x":2.3,"y":1.79},{"x":3.1,"y":1.78},{"x":3.2,"y":1.87},{"x":1.2,"y":1.95},{"x":1.6,"y":1.95},{"x":2,"y":1.96},{"x":2.4,"y":1.94},{"x":1.1,"y":2.1},{"x":1.5,"y":2.1},{"x":1.9,"y":2.11},{"x":2.3,"y":2.09},{"x":1.2,"y":2.25},{"x":1.6,"y":2.25},{"x":2,"y":2.26},{"x":3.5,"y":2.28},{"x":1.1,"y":2.4},{"x":1.5,"y":2.4},{"x":1.9,"y":2.41},{"x":2.6,"y":2.47},{"x":2.9,"y":2.47},{"x":1.2,"y":2.55},{"x":1.6,"y":2.55},{"x":2.1,"y":2.56},{"x":1.1,"y":2.7},{"x":1.5,"y":2.7},{"x":2,"y":2.71},{"x":3.3,"y":2.65},{"x":3.4,"y":2.75},{"x":4.2,"y":2.57},{"x":1.2,"y":2.85},{"x":1.6,"y":2.85},{"x":1.9,"y":3.0},{"x":1.1,"y":3.0},{"x":1.5,"y":3.0},{"x":2.1,"y":3.1},{"x":2.3,"y":3.1},{"x":4.8,"y":3.0},{"x":1.2,"y":3.15},{"x":2.7,"y":3.23},{"x":3.3,"y":3.25},{"x":4,"y":3.2},{"x":1.1,"y":3.3},{"x":1.7,"y":3.38},{"x":1.9,"y":3.4},{"x":3,"y":3.42},{"x":3.5,"y":3.35},{"x":1.1,"y":3.58},{"x":2.3,"y":3.6},{"x":1.8,"y":3.73},{"x":2,"y":3.72},{"x":2.5,"y":3.75},
{"x":1.1,"y":4.0},{"x":1.4,"y":4.0},{"x":1.7,"y":4.0},{"x":2.5,"y":4.0},{"x":3.8,"y":4.0},{"x":4.8,"y":4.0}
],
"p5": [
{"x":-0.55,"y":4.0},{"x":0,"y":4.0},{"x":0.6,"y":4.0},{"x":-0.6,"y":3.85},{"x":0.25,"y":3.85},{"x":-0.5,"y":3.7},{"x":0.05,"y":3.7},{"x":0.55,"y":3.7},{"x":-0.6,"y":3.55},{"x":0,"y":3.55},{"x":0.55,"y":3.55},{"x":-0.5,"y":3.4},{"x":0.1,"y":3.4},{"x":0.62,"y":3.4},{"x":-0.62,"y":3.25},{"x":-0.02,"y":3.25},{"x":0.55,"y":3.25},{"x":-0.5,"y":3.1},{"x":0.1,"y":3.1},{"x":0.65,"y":3.1},{"x":-0.65,"y":2.95},{"x":0,"y":2.95},{"x":0.55,"y":2.95},{"x":-0.5,"y":2.8},{"x":0.1,"y":2.8},{"x":0.68,"y":2.8},{"x":-0.68,"y":2.65},{"x":-0.05,"y":2.65},{"x":0.55,"y":2.65},{"x":-0.55,"y":2.5},{"x":0.1,"y":2.5},{"x":0.7,"y":2.5},{"x":-0.7,"y":2.35},{"x":-0.05,"y":2.35},{"x":0.55,"y":2.35},{"x":-0.55,"y":2.2},{"x":0.1,"y":2.2},{"x":0.72,"y":2.2},{"x":-0.72,"y":2.05},{"x":-0.05,"y":2.05},{"x":0.6,"y":2.05},{"x":-0.6,"y":1.9},{"x":0.1,"y":1.9},{"x":0.75,"y":1.9},{"x":-0.75,"y":1.75},{"x":0,"y":1.75},{"x":0.6,"y":1.75},{"x":-0.6,"y":1.6},{"x":0.12,"y":1.6},{"x":0.78,"y":1.6},{"x":-0.78,"y":1.45},{"x":-0.05,"y":1.45},{"x":0.62,"y":1.45},{"x":-0.5,"y":1.34},{"x":0.3,"y":1.34},
{"x":-2,"y":1.22},{"x":-1.45,"y":1.21},{"x":-0.9,"y":1.23},{"x":-0.35,"y":1.22},{"x":0.2,"y":1.2},{"x":0.75,"y":1.22},{"x":1.3,"y":1.23},{"x":1.85,"y":1.21},{"x":2.4,"y":1.22},
{"x":-2.1,"y":1.1},{"x":-1.55,"y":1.09},{"x":-1,"y":1.11},{"x":-0.45,"y":1.1},{"x":0.1,"y":1.09},{"x":0.65,"y":1.1},{"x":1.2,"y":1.11},{"x":1.75,"y":1.09},{"x":2.3,"y":1.1},{"x":3.2,"y":1.12},
{"x":-2.4,"y":0.97},{"x":-1.85,"y":0.96},{"x":-1.3,"y":0.98},{"x":-0.75,"y":0.97},{"x":-0.2,"y":0.96},{"x":0.35,"y":0.97},{"x":0.9,"y":0.98},{"x":1.45,"y":0.96},{"x":2,"y":0.97},{"x":2.55,"y":0.98},
{"x":-2.9,"y":0.84},{"x":-2.35,"y":0.83},{"x":-1.8,"y":0.85},{"x":-1.25,"y":0.84},{"x":-0.7,"y":0.83},{"x":-0.15,"y":0.84},{"x":0.4,"y":0.85},{"x":0.95,"y":0.83},{"x":1.5,"y":0.84},{"x":2.05,"y":0.85},{"x":2.6,"y":0.83},{"x":3.3,"y":0.84},
{"x":-3.3,"y":0.71},{"x":-2.75,"y":0.7},{"x":-2.2,"y":0.72},{"x":-1.65,"y":0.71},{"x":-1.1,"y":0.7},{"x":-0.55,"y":0.71},{"x":0,"y":0.72},{"x":0.55,"y":0.7},{"x":1.1,"y":0.71},{"x":1.65,"y":0.72},{"x":2.2,"y":0.7},{"x":2.75,"y":0.71},{"x":3.3,"y":0.72},{"x":3.9,"y":0.71},
{"x":-3,"y":0.58},{"x":-2.45,"y":0.57},{"x":-1.9,"y":0.59},{"x":-1.35,"y":0.58},{"x":-0.8,"y":0.57},{"x":-0.25,"y":0.58},{"x":0.3,"y":0.59},{"x":0.85,"y":0.57},{"x":1.4,"y":0.58},{"x":1.95,"y":0.59},{"x":2.5,"y":0.57},{"x":3.05,"y":0.58},{"x":4.2,"y":0.65},
{"x":-3.35,"y":0.46},{"x":-2.8,"y":0.45},{"x":-2.25,"y":0.47},{"x":-1.7,"y":0.46},{"x":-1.15,"y":0.45},{"x":-0.6,"y":0.46},{"x":-0.05,"y":0.47},{"x":0.5,"y":0.45},{"x":1.05,"y":0.46},{"x":1.6,"y":0.47},{"x":2.15,"y":0.45},{"x":2.7,"y":0.46},{"x":3.25,"y":0.47},{"x":3.95,"y":0.45},
{"x":-2.6,"y":0.34},{"x":-2.05,"y":0.33},{"x":-1.5,"y":0.35},{"x":-0.95,"y":0.34},{"x":-0.4,"y":0.33},{"x":0.15,"y":0.34},{"x":0.7,"y":0.35},{"x":1.25,"y":0.33},{"x":1.8,"y":0.34},{"x":2.35,"y":0.35},{"x":2.9,"y":0.33},
{"x":-1.5,"y":0.22},{"x":-0.95,"y":0.21},{"x":-0.4,"y":0.23},{"x":0.15,"y":0.22},{"x":0.7,"y":0.21},{"x":1.25,"y":0.22},{"x":1.8,"y":0.23},
{"x":-0.8,"y":0.11},{"x":-0.25,"y":0.1},{"x":0.3,"y":0.12},{"x":0.85,"y":0.11},{"x":-0.2,"y":0.02},{"x":0.3,"y":0.02},
{"x":-1.15,"y":1.36},{"x":-1.7,"y":1.36},{"x":-2.2,"y":1.37},{"x":-1.1,"y":1.5},{"x":-1.65,"y":1.5},{"x":-2.15,"y":1.51},{"x":-3,"y":1.57},{"x":-1.2,"y":1.65},{"x":-1.75,"y":1.65},{"x":-2.25,"y":1.66},{"x":-3.2,"y":1.73},{"x":-1.1,"y":1.8},{"x":-1.65,"y":1.8},{"x":-2.15,"y":1.81},{"x":-2.55,"y":1.78},{"x":-1.2,"y":1.95},{"x":-1.75,"y":1.95},{"x":-2.3,"y":1.96},{"x":-1.1,"y":2.1},{"x":-1.65,"y":2.1},{"x":-2.2,"y":2.11},{"x":-2.5,"y":2.15},{"x":-1.2,"y":2.25},{"x":-1.75,"y":2.25},{"x":-2.3,"y":2.26},{"x":-1.1,"y":2.4},{"x":-1.65,"y":2.4},{"x":-2.4,"y":2.32},{"x":-1.2,"y":2.55},{"x":-1.75,"y":2.55},{"x":-2.4,"y":2.52},{"x":-1.1,"y":2.7},{"x":-1.65,"y":2.7},{"x":-2,"y":2.7},{"x":-1.2,"y":2.85},{"x":-1.5,"y":2.9},{"x":-1.15,"y":3.0},{"x":-2.7,"y":2.97},{"x":-1.2,"y":3.15},{"x":-1.8,"y":3.1},{"x":-2.4,"y":3.23},{"x":-1.1,"y":3.43},{"x":-1.5,"y":3.5},{"x":-1.6,"y":3.63},
{"x":-2.3,"y":4.0},{"x":-2,"y":4.0},{"x":-1.7,"y":4.0},{"x":-1.4,"y":4.0},{"x":-1.1,"y":4.0},
{"x":1.15,"y":1.36},{"x":1.7,"y":1.36},{"x":2.2,"y":1.37},{"x":1.1,"y":1.5},{"x":1.65,"y":1.5},{"x":2.15,"y":1.51},{"x":2.5,"y":1.48},{"x":1.2,"y":1.65},{"x":1.75,"y":1.65},{"x":2.25,"y":1.66},{"x":1.1,"y":1.8},{"x":1.65,"y":1.8},{"x":2.15,"y":1.81},{"x":1.2,"y":1.95},{"x":1.75,"y":1.95},{"x":2.2,"y":1.96},{"x":1.1,"y":2.1},{"x":1.65,"y":2.1},{"x":2.15,"y":2.11},{"x":1.2,"y":2.25},{"x":1.75,"y":2.25},{"x":2.25,"y":2.26},{"x":1.1,"y":2.4},{"x":1.65,"y":2.4},{"x":2.2,"y":2.41},{"x":1.2,"y":2.55},{"x":1.75,"y":2.55},{"x":2.4,"y":2.6},{"x":1.1,"y":2.7},{"x":1.65,"y":2.7},{"x":2.2,"y":2.71},{"x":1.2,"y":2.85},{"x":1.75,"y":2.85},{"x":2.7,"y":2.87},{"x":1.1,"y":3.0},{"x":1.65,"y":3.0},{"x":2.2,"y":3.01},{"x":1.2,"y":3.15},{"x":1.75,"y":3.15},{"x":3.2,"y":3.17},{"x":1.1,"y":3.3},{"x":1.65,"y":3.3},{"x":2.8,"y":3.36},{"x":2.9,"y":3.27},{"x":1.2,"y":3.45},{"x":1.75,"y":3.45},{"x":2.5,"y":3.47},{"x":1.1,"y":3.6},{"x":1.6,"y":3.6},{"x":1.2,"y":3.75},{"x":2.7,"y":3.84},
{"x":1.3,"y":4.0},{"x":1.7,"y":4.0},{"x":2,"y":4.0},{"x":2.3,"y":4.0},{"x":3.1,"y":4.0},{"x":6.1,"y":4.0}
]
},
"concat": [
{"width": 225, "height": 251, "title": {"text": "PYS"},
 "encoding": {
  "x": {"field": "x", "type": "quantitative", "scale": {"domain": [-8.6, 8.8], "nice": false, "zero": false}, "axis": {"values": [-8,-6,-4,-2,0,2,4,6,8], "format": "d", "labelOverlap": false, "title": null}},
  "y": {"field": "y", "type": "quantitative", "scale": {"domain": [-0.14, 4.17], "nice": false, "zero": false}, "axis": {"values": [1,2,3,4], "format": "d", "labelOverlap": false, "title": null}}},
 "layer": [
  {"data": {"name": "p1"}, "mark": {"type": "square", "size": 58, "strokeWidth": 0.8, "opacity": 1},
   "encoding": {
    "fill": {"condition": {"test": "datum.y > 1.3 && abs(datum.x) > 1", "value": "#ff2a00"}, "value": "#c8c8c8"},
    "stroke": {"condition": {"test": "datum.y > 1.3 && abs(datum.x) > 1", "value": "#c41c00"}, "value": "#a2a2a2"}}},
  {"data": {"values": [{"x": -1, "x2": -1, "y": -0.14, "y2": 4.17}, {"x": 1, "x2": 1, "y": -0.14, "y2": 4.17}, {"x": -8.6, "x2": 8.8, "y": 1.3, "y2": 1.3}]},
   "mark": {"type": "rule", "color": "#5cc45c", "strokeWidth": 1.2},
   "encoding": {"x2": {"field": "x2"}, "y2": {"field": "y2"}}},
  {"data": {"values": [{"x": -5.9, "y": 2.9, "n": "507"}, {"x": 6.5, "y": 2.9, "n": "606"}]}, "mark": {"type": "text", "fontSize": 17, "font": "Lato", "color": "#333"},
   "encoding": {"text": {"field": "n"}}},
  {"data": {"values": [{"x": -11.0, "y": 1.06, "n": "-log10 (P value)"}]}, "mark": {"type": "text", "fontSize": 17, "font": "Lato", "color": "#111", "angle": 270, "align": "left", "baseline": "middle"},
   "encoding": {"text": {"field": "n"}}},
  {"data": {"values": [
     {"x": -11.0, "y": -5.256, "x2": -11.0, "y2": 0.805},
     {"x": -11.0, "y": 0.805, "x2": -11.46, "y2": 0.6},
     {"x": -11.0, "y": 0.805, "x2": -10.54, "y2": 0.6},
     {"x": -9.22, "y": -5.823, "x2": 29.29, "y2": -5.823},
     {"x": 29.29, "y": -5.823, "x2": 28.52, "y2": -5.737},
     {"x": 29.29, "y": -5.823, "x2": 28.52, "y2": -5.909}]},
   "mark": {"type": "rule", "color": "#111", "strokeWidth": 1.3, "clip": false},
   "encoding": {"x2": {"field": "x2"}, "y2": {"field": "y2"}}}
 ]},
{"width": 224, "height": 251, "title": {"text": "HPG"},
 "encoding": {
  "x": {"field": "x", "type": "quantitative", "scale": {"domain": [-8.8, 8.8], "nice": false, "zero": false}, "axis": {"values": [-8,-6,-4,-2,0,2,4,6,8], "format": "d", "labelOverlap": false, "title": null}},
  "y": {"field": "y", "type": "quantitative", "scale": {"domain": [-0.14, 4.17], "nice": false, "zero": false}, "axis": {"values": [1,2,3,4], "format": "d", "labelOverlap": false, "title": null}}},
 "layer": [
  {"data": {"name": "p2"}, "mark": {"type": "square", "size": 58, "strokeWidth": 0.8, "opacity": 1},
   "encoding": {
    "fill": {"condition": {"test": "datum.y > 1.3 && abs(datum.x) > 1", "value": "#ff2a00"}, "value": "#c8c8c8"},
    "stroke": {"condition": {"test": "datum.y > 1.3 && abs(datum.x) > 1", "value": "#c41c00"}, "value": "#a2a2a2"}}},
  {"data": {"values": [{"x": -1, "x2": -1, "y": -0.14, "y2": 4.17}, {"x": 1, "x2": 1, "y": -0.14, "y2": 4.17}, {"x": -8.8, "x2": 8.8, "y": 1.3, "y2": 1.3}]},
   "mark": {"type": "rule", "color": "#5cc45c", "strokeWidth": 1.2},
   "encoding": {"x2": {"field": "x2"}, "y2": {"field": "y2"}}},
  {"data": {"values": [{"x": -6.45, "y": 2.85, "n": "857"}, {"x": 6.9, "y": 2.85, "n": "785"}]}, "mark": {"type": "text", "fontSize": 17, "font": "Lato", "color": "#333"},
   "encoding": {"text": {"field": "n"}}}
 ]},
{"width": 224, "height": 249, "title": {"text": "Control"},
 "encoding": {
  "x": {"field": "x", "type": "quantitative", "scale": {"domain": [-7.7, 7.6], "nice": false, "zero": false}, "axis": {"values": [-6,-4,-2,0,2,4,6], "format": "d", "labelOverlap": false, "title": null}},
  "y": {"field": "y", "type": "quantitative", "scale": {"domain": [-0.14, 4.15], "nice": false, "zero": false}, "axis": {"values": [1,2,3,4], "format": "d", "labelOverlap": false, "title": "Reference: Sham", "titleX": 241, "titleY": 133, "titleAngle": 270, "titleAlign": "center", "titleBaseline": "middle", "titleFontSize": 16}}},
 "layer": [
  {"data": {"name": "p3"}, "mark": {"type": "square", "size": 58, "strokeWidth": 0.8, "opacity": 1},
   "encoding": {
    "fill": {"condition": {"test": "datum.y > 1.3 && abs(datum.x) > 1", "value": "#ff2a00"}, "value": "#c8c8c8"},
    "stroke": {"condition": {"test": "datum.y > 1.3 && abs(datum.x) > 1", "value": "#c41c00"}, "value": "#a2a2a2"}}},
  {"data": {"values": [{"x": -1, "x2": -1, "y": -0.14, "y2": 4.15}, {"x": 1, "x2": 1, "y": -0.14, "y2": 4.15}, {"x": -7.7, "x2": 7.6, "y": 1.3, "y2": 1.3}]},
   "mark": {"type": "rule", "color": "#5cc45c", "strokeWidth": 1.2},
   "encoding": {"x2": {"field": "x2"}, "y2": {"field": "y2"}}},
  {"data": {"values": [{"x": -5.16, "y": 2.88, "n": "439"}, {"x": 5.64, "y": 2.88, "n": "529"}]}, "mark": {"type": "text", "fontSize": 17, "font": "Lato", "color": "#333"},
   "encoding": {"text": {"field": "n"}}}
 ]},
{"width": 216, "height": 244, "title": {"text": "PYS"},
 "encoding": {
  "x": {"field": "x", "type": "quantitative", "scale": {"domain": [-5.35, 5.45], "nice": false, "zero": false}, "axis": {"values": [-4,-2,0,2,4], "format": "d", "labelOverlap": false, "title": null}},
  "y": {"field": "y", "type": "quantitative", "scale": {"domain": [-0.15, 4.16], "nice": false, "zero": false}, "axis": {"values": [0,1,2,3,4], "format": "d", "labelOverlap": false, "title": null}}},
 "layer": [
  {"data": {"name": "p4"}, "mark": {"type": "square", "size": 58, "strokeWidth": 0.8, "opacity": 1},
   "encoding": {
    "fill": {"condition": {"test": "datum.y > 1.3 && abs(datum.x) > 1", "value": "#f80808"}, "value": "#c8c8c8"},
    "stroke": {"condition": {"test": "datum.y > 1.3 && abs(datum.x) > 1", "value": "#b80000"}, "value": "#a2a2a2"}}},
  {"data": {"values": [{"x": -1, "x2": -1, "y": -0.15, "y2": 4.16}, {"x": 1, "x2": 1, "y": -0.15, "y2": 4.16}, {"x": -5.35, "x2": 5.45, "y": 1.3, "y2": 1.3}]},
   "mark": {"type": "rule", "color": "#5cc45c", "strokeWidth": 1.2},
   "encoding": {"x2": {"field": "x2"}, "y2": {"field": "y2"}}},
  {"data": {"values": [{"x": -4.08, "y": 2.81, "n": "244"}, {"x": 4.17, "y": 2.81, "n": "282"}]}, "mark": {"type": "text", "fontSize": 17, "font": "Lato", "color": "#333"},
   "encoding": {"text": {"field": "n"}}}
 ]},
{"width": 221, "height": 244, "title": {"text": "HPG"},
 "encoding": {
  "x": {"field": "x", "type": "quantitative", "scale": {"domain": [-7.55, 7.66], "nice": false, "zero": false}, "axis": {"values": [-6,-4,-2,0,2,4,6], "format": "d", "labelOverlap": false, "title": "log 2(fold change)", "titleX": 249, "titleY": 32, "titleAlign": "left", "titleBaseline": "middle", "titleAngle": 0, "titleFontSize": 18}},
  "y": {"field": "y", "type": "quantitative", "scale": {"domain": [-0.15, 4.16], "nice": false, "zero": false}, "axis": {"values": [0,1,2,3,4], "format": "d", "labelOverlap": false, "title": "Reference: Control", "titleX": 243, "titleY": 126, "titleAngle": 270, "titleAlign": "center", "titleBaseline": "middle", "titleFontSize": 18}}},
 "layer": [
  {"data": {"name": "p5"}, "mark": {"type": "square", "size": 58, "strokeWidth": 0.8, "opacity": 1},
   "encoding": {
    "fill": {"condition": {"test": "datum.y > 1.3 && abs(datum.x) > 1", "value": "#f80808"}, "value": "#c8c8c8"},
    "stroke": {"condition": {"test": "datum.y > 1.3 && abs(datum.x) > 1", "value": "#b80000"}, "value": "#a2a2a2"}}},
  {"data": {"values": [{"x": -1, "x2": -1, "y": -0.15, "y2": 4.16}, {"x": 1, "x2": 1, "y": -0.15, "y2": 4.16}, {"x": -7.55, "x2": 7.66, "y": 1.3, "y2": 1.3}]},
   "mark": {"type": "rule", "color": "#5cc45c", "strokeWidth": 1.2},
   "encoding": {"x2": {"field": "x2"}, "y2": {"field": "y2"}}},
  {"data": {"values": [{"x": -5.21, "y": 2.79, "n": "273"}, {"x": 5.64, "y": 2.8, "n": "396"}]}, "mark": {"type": "text", "fontSize": 17, "font": "Lato", "color": "#333"},
   "encoding": {"text": {"field": "n"}}}
 ]}
],
"columns": 3,
"spacing": {"row": 54, "column": 20},
"bounds": "flush",
"center": {"column": true, "row": false},
"config": {
 "view": {"stroke": "#1a1a1a", "strokeWidth": 2},
 "axis": {"grid": true, "gridColor": "#dcdfe8", "gridWidth": 1, "domain": false, "ticks": true, "tickColor": "#222", "tickSize": 4, "labelFont": "DejaVu Sans", "labelFontSize": 8.5, "labelFontWeight": "bold", "labelColor": "#111", "labelPadding": 2, "labelOverlap": false, "titleFont": "Lato", "titleFontWeight": "normal", "titleColor": "#111"},
 "title": {"font": "Lato", "fontSize": 17, "fontWeight": "normal", "offset": 5, "color": "#111", "frame": "group"}
}
}
